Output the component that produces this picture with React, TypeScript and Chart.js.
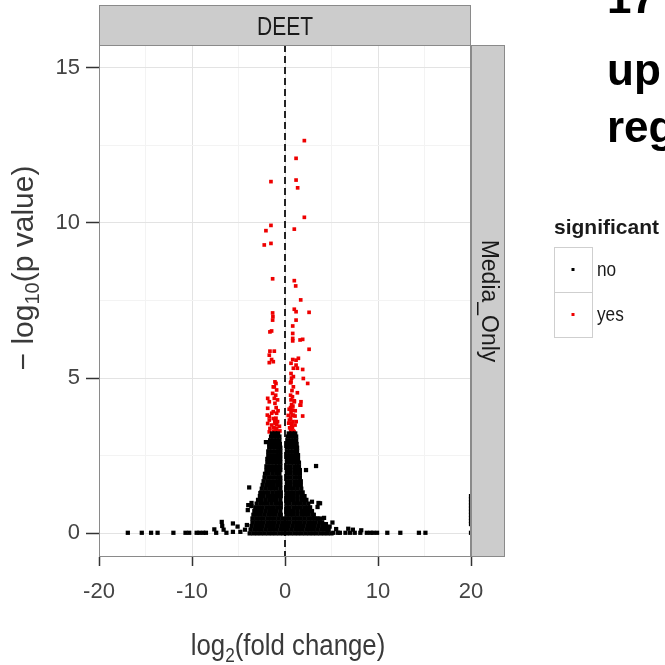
import { useEffect, useRef } from 'react';
import { Chart, registerables } from 'chart.js';

Chart.register(...registerables);

// Axis limits and tick positions
const xLimits = [-20, 20];
const yLimits = [-0.76, 15.73];
const xTicksMajor = [-20, -10, 0, 10, 20];
const xTicksMinor = [-15, -5, 5, 15];
const yTicksMajor = [0, 5, 10, 15];
const yTicksMinor = [2.5, 7.5, 12.5];
const referenceLineX = 0;

// Text
const facetColumn = 'DEET';
const facetRow = 'Media_Only';
const legendTitle = 'significant';
const legendLabels = ['no', 'yes'];
const headlineLines = ['17', 'up', 'reg'];

// Significant genes: [log2 fold change, -log10 p]
const sigGenes: [number, number][] = [
  [2.08, 12.65], [1.19, 12.08], [-1.51, 11.33], [1.19, 11.38], [1.36, 11.13], [2.08, 10.18],
  [-1.51, 9.92], [-2.05, 9.75], [1.0, 9.8], [-2.23, 9.29], [-1.51, 9.34],
  [-1.33, 8.2], [1.0, 8.14], [1.15, 7.97], [1.69, 7.52],
  [-1.33, 7.1], [-1.3, 6.98], [-1.33, 6.87], [1.0, 7.22], [1.19, 7.14], [2.59, 7.12], [1.19, 6.87], [0.83, 6.68],
  [-1.44, 6.52], [-1.62, 6.49], [0.83, 6.44], [0.83, 6.28], [1.62, 6.23], [1.9, 6.25], [0.83, 6.2], [2.59, 5.93],
  [-1.62, 5.87], [-1.15, 5.87], [-1.69, 5.74], [-1.44, 5.6], [-1.69, 5.5], [-1.26, 5.53],
  [0.83, 5.6], [1.19, 5.58], [1.44, 5.64], [0.65, 5.48], [1.19, 5.42], [0.9, 5.32], [1.33, 5.32], [1.9, 5.28],
  [0.65, 5.15], [0.9, 5.05], [1.97, 4.99], [2.44, 4.83], [0.65, 4.88], [0.9, 4.72],
  [1.33, 4.53], [1.0, 4.27], [1.69, 4.13], [1.72, 4.24], [1.9, 3.78], [0.83, 3.97], [1.08, 3.78],
  [0.7, 5.0], [0.6, 4.85], [0.75, 4.6], [0.6, 4.45], [0.8, 4.4], [0.65, 4.3], [0.7, 4.15], [0.6, 4.05],
  [0.85, 4.1], [0.65, 3.9], [0.75, 3.8], [0.6, 3.7], [0.85, 3.6], [0.7, 3.5], [0.5, 3.4], [0.8, 3.42],
  [0.65, 3.3], [0.9, 3.3], [1.0, 4.24], [1.62, 4.13], [0.72, 3.97], [0.9, 3.81], [0.47, 3.65], [0.72, 3.54],
  [1.08, 3.49], [0.61, 3.33], [0.97, 3.27], [0.4, 3.55], [0.35, 3.8], [0.45, 4.0], [1.2, 3.6], [1.1, 3.95],
  [-0.97, 4.83], [-1.15, 4.72], [-0.9, 4.62], [-1.33, 4.51], [-1.15, 4.35], [-1.86, 4.35], [-1.08, 4.19],
  [-1.86, 4.03], [-1.26, 3.92], [-0.9, 3.87], [-1.69, 3.76], [-0.97, 3.71], [-1.08, 4.88], [-1.26, 4.72],
  [-1.69, 4.24], [-1.9, 3.81], [-1.43, 3.87], [-1.69, 3.65], [-1.26, 3.7], [-1.86, 3.54], [-1.43, 3.49],
  [-1.62, 3.38], [-1.08, 3.54], [-0.9, 3.38], [-0.72, 3.27], [-1.69, 3.27],
  [-1.0, 4.45], [-0.8, 4.3], [-0.95, 4.05], [-0.75, 3.95], [-1.1, 3.6], [-0.8, 3.6], [-1.2, 3.4],
  [-0.9, 3.5], [-0.6, 3.45], [-1.05, 3.3], [-0.55, 3.3], [-1.25, 3.28],
];

// Dense centre of non-significant genes: one list of log2 fold changes per -log10 p level
const nsCoreLevels = [
  0, 0.12, 0.24, 0.36, 0.48, 0.6, 0.72, 0.84, 0.96, 1.08, 1.2, 1.32, 1.44, 1.56,
  1.68, 1.8, 1.92, 2.04, 2.16, 2.28, 2.4, 2.52, 2.64, 2.76, 2.88, 3.0, 3.12, 3.22,
];
const nsCoreRows: number[][] = [
  [-3.8, -3.4, -3.0, -2.6, -2.2, -1.8, -1.4, -1.0, -0.6, -0.2, 0.2, 0.6, 1.0, 1.4, 1.8, 2.2, 2.6, 3.0, 3.4, 3.8, 4.2, 4.6, 5.0],
  [-3.7, -3.3, -2.9, -2.5, -2.1, -1.7, -1.3, -0.9, -0.5, -0.1, 0.3, 0.7, 1.1, 1.5, 1.9, 2.3, 2.7, 3.1, 3.5, 3.9, 4.3, 4.7],
  [-3.6, -3.2, -2.8, -2.4, -2.0, -1.6, -1.2, -0.8, -0.4, 0, 0.4, 0.8, 1.2, 1.6, 2.0, 2.4, 2.8, 3.2, 3.6, 4.0, 4.4],
  [-3.5, -3.1, -2.7, -2.3, -1.9, -1.5, -1.1, -0.7, -0.3, 0.1, 0.5, 0.9, 1.3, 1.7, 2.1, 2.5, 2.9, 3.3, 3.7, 4.0],
  [-3.5, -3.1, -2.7, -2.3, -1.9, -1.5, -1.1, -0.7, -0.3, 0.1, 0.5, 0.9, 1.3, 1.7, 2.1, 2.5, 2.9, 3.3, 3.5],
  [-3.4, -3.0, -2.6, -2.2, -1.8, -1.4, -1.0, -0.6, -0.45, 0.15, 0.55, 0.95, 1.35, 1.75, 2.15, 2.55, 2.95, 3.1],
  [-3.3, -2.9, -2.5, -2.1, -1.7, -1.3, -0.9, -0.5, 0.15, 0.55, 0.95, 1.35, 1.75, 2.15, 2.55, 2.9],
  [-3.2, -2.8, -2.4, -2.0, -1.6, -1.2, -0.8, -0.45, 0.15, 0.5, 0.9, 1.3, 1.7, 2.1, 2.45, 2.7],
  [-3.05, -2.65, -2.25, -1.85, -1.45, -1.05, -0.7, -0.45, 0.15, 0.5, 0.9, 1.3, 1.7, 2.1, 2.5],
  [-2.9, -2.5, -2.1, -1.7, -1.3, -0.9, -0.5, 0.15, 0.55, 0.95, 1.35, 1.75, 2.1, 2.3],
  [-2.7, -2.3, -1.9, -1.5, -1.1, -0.75, -0.45, 0.15, 0.55, 0.95, 1.35, 1.75, 2.1],
  [-2.55, -2.15, -1.75, -1.35, -0.95, -0.6, -0.45, 0.15, 0.55, 0.95, 1.35, 1.7, 1.9],
  [-2.5, -2.1, -1.7, -1.3, -0.9, -0.5, 0.15, 0.55, 0.95, 1.35, 1.75],
  [-2.4, -2.0, -1.6, -1.2, -0.8, -0.5, 0.2, 0.6, 1.0, 1.4, 1.7],
  [-2.3, -1.9, -1.5, -1.1, -0.75, -0.5, 0.2, 0.6, 1.0, 1.4, 1.7],
  [-2.2, -1.8, -1.4, -1.0, -0.65, -0.5, 0.2, 0.6, 1.0, 1.35, 1.6],
  [-2.15, -1.75, -1.35, -0.95, -0.6, 0.2, 0.6, 1.0, 1.35, 1.6],
  [-2.0, -1.6, -1.2, -0.85, -0.5, 0.2, 0.6, 1.0, 1.35, 1.6],
  [-2.0, -1.6, -1.2, -0.85, -0.5, 0.2, 0.6, 1.0, 1.3, 1.5],
  [-1.9, -1.5, -1.1, -0.75, -0.5, 0.2, 0.6, 0.95, 1.3, 1.5],
  [-1.9, -1.5, -1.1, -0.75, -0.5, 0.2, 0.6, 0.95, 1.25, 1.4],
  [-1.8, -1.4, -1.0, -0.7, -0.5, 0.2, 0.55, 0.9, 1.2, 1.4],
  [-1.8, -1.4, -1.0, -0.7, -0.5, 0.2, 0.55, 0.9, 1.2, 1.3],
  [-1.7, -1.35, -1.0, -0.7, -0.5, 0.2, 0.55, 0.9, 1.2, 1.3],
  [-1.7, -1.35, -1.0, -0.7, -0.55, 0.2, 0.55, 0.9, 1.25],
  [-1.6, -1.25, -0.9, -0.6, 0.25, 0.6, 0.95, 1.2],
  [-1.5, -1.15, -0.85, -0.6, 0.3, 0.65, 0.95, 1.2],
  [-1.4, -1.05, -0.75, 0.4, 0.75, 1.1],
];

// Non-significant genes outside the dense centre: [log2 fold change, -log10 p]
const nsScatter: [number, number][] = [
  [-2.05, 2.94], [3.34, 2.17], [2.26, 2.04], [-3.85, 1.48], [-3.6, 0.98], [-3.62, 0.88], [3.6, 0.98],
  [3.5, 0.85], [2.9, 1.02], [-2.65, 1.3], [-2.6, 1.2],
  [-6.8, 0.37], [-6.75, 0.24], [-6.6, 0.12], [-5.6, 0.32], [-5.6, 0.05], [-5.1, 0.22], [-4.8, 0.05],
  [-4.3, 0.12], [-4.1, 0.27], [-4.0, 0.75], [-3.95, 0.91], [-7.6, 0.13], [-7.4, 0.02],
  [3.77, 0.97], [3.77, 0.48], [4.4, 0.3], [4.8, 0.22], [5.1, 0.35], [4.6, 0.12], [4.2, 0.5],
  [-16.9, 0.02], [-15.4, 0.02], [-14.4, 0.02], [-13.7, 0.02], [-12.0, 0.02], [-10.7, 0.02], [-10.3, 0.02],
  [-9.5, 0.02], [-9.2, 0.02], [-8.8, 0.02], [-8.5, 0.02], [-6.3, 0.02],
  [5.2, 0.02], [5.7, 0.02], [5.9, 0.02], [6.5, 0.02], [7.0, 0.02], [7.5, 0.02], [8.1, 0.02], [8.8, 0.02],
  [9.2, 0.02], [9.5, 0.02], [9.9, 0.02], [11.0, 0.02], [12.4, 0.02], [14.4, 0.02], [15.1, 0.02],
  [5.5, 0.14], [6.8, 0.15], [7.3, 0.12], [8.2, 0.1],
];

// Genes whose fold change sits at the axis limit
const nsAtLimit: [number, number][] = [
  [20, 0.02], [20, 0.3], [20, 0.4], [20, 0.5], [20, 0.6], [20, 0.7], [20, 0.8], [20, 0.9], [20, 1.0], [20, 1.1], [20, 1.2],
];

const SANS = '"Liberation Sans", Arial, sans-serif';
const GRID_MAJOR = '#e3e3e3';
const GRID_MINOR = '#f3f3f3';
const FRAME = '#8a8a8a';
const STRIP_FILL = '#cccccc';
const TEXT_DARK = '#3a3a3a';
const NO_COLOR = '#000000';
const YES_COLOR = '#ee0000';

type Run = { text: string; size: number; dy: number };

// Draws a run of text pieces centred on the origin, squeezed horizontally by `squeeze`
function drawRuns(ctx: CanvasRenderingContext2D, runs: Run[], squeeze: number, weight = '') {
  const widths = runs.map((r) => {
    ctx.font = `${weight} ${r.size}px ${SANS}`;
    return ctx.measureText(r.text).width;
  });
  const total = widths.reduce((a, b) => a + b, 0);
  ctx.save();
  ctx.scale(squeeze, 1);
  ctx.textAlign = 'left';
  let x = -total / 2;
  runs.forEach((r, i) => {
    ctx.font = `${weight} ${r.size}px ${SANS}`;
    ctx.fillText(r.text, x, r.dy);
    x += widths[i];
  });
  ctx.restore();
}

function drawLeftText(ctx: CanvasRenderingContext2D, text: string, x: number, y: number, font: string, squeeze: number) {
  ctx.save();
  ctx.translate(x, y);
  ctx.scale(squeeze, 1);
  ctx.font = font;
  ctx.textAlign = 'left';
  ctx.fillText(text, 0, 0);
  ctx.restore();
}

const decor = {
  id: 'decor',
  afterDatasetsDraw(chart: any) {
    const { ctx, chartArea: a, scales } = chart;
    const x0 = scales.x.getPixelForValue(referenceLineX);
    ctx.save();
    ctx.beginPath();
    ctx.rect(a.left, a.top, a.right - a.left, a.bottom - a.top);
    ctx.clip();
    ctx.strokeStyle = '#000';
    ctx.lineWidth = 1.7;
    ctx.setLineDash([7, 4]);
    ctx.beginPath();
    ctx.moveTo(x0, a.top);
    ctx.lineTo(x0, a.bottom);
    ctx.stroke();
    ctx.restore();
  },
  afterDraw(chart: any) {
    const { ctx, chartArea: a } = chart;
    const w = a.right - a.left;
    const h = a.bottom - a.top;
    ctx.save();

    // facet strips
    ctx.fillStyle = STRIP_FILL;
    ctx.strokeStyle = FRAME;
    ctx.lineWidth = 1;
    ctx.fillRect(a.left, a.top - 40, w, 40);
    ctx.strokeRect(a.left + 0.5, a.top - 39.5, w - 1, 40);
    ctx.fillRect(a.right, a.top, 33, h);
    ctx.strokeRect(a.right + 0.5, a.top + 0.5, 33, h - 1);

    // panel frame
    ctx.strokeRect(a.left + 0.5, a.top + 0.5, w - 1, h - 1);

    // strip labels
    ctx.fillStyle = '#1a1a1a';
    ctx.textBaseline = 'middle';
    ctx.save();
    ctx.translate((a.left + a.right) / 2, a.top - 17);
    drawRuns(ctx, [{ text: facetColumn, size: 25, dy: 0 }], 0.84);
    ctx.restore();
    ctx.save();
    ctx.translate(a.right + 17, (a.top + a.bottom) / 2);
    ctx.rotate(Math.PI / 2);
    drawRuns(ctx, [{ text: facetRow, size: 23, dy: 0 }], 1);
    ctx.restore();

    // axis titles
    ctx.fillStyle = TEXT_DARK;
    ctx.textBaseline = 'alphabetic';
    ctx.save();
    ctx.translate((a.left + a.right) / 2 + 3, 655);
    drawRuns(ctx, [
      { text: 'log', size: 30, dy: 0 },
      { text: '2', size: 20, dy: 7 },
      { text: '(fold change)', size: 30, dy: 0 },
    ], 0.86);
    ctx.restore();
    ctx.save();
    ctx.translate(33, 268);
    ctx.rotate(-Math.PI / 2);
    drawRuns(ctx, [
      { text: '\u2212 log', size: 30, dy: 0 },
      { text: '10', size: 20, dy: 6 },
      { text: '(p value)', size: 30, dy: 0 },
    ], 1);
    ctx.restore();

    // legend
    const lx = 554;
    ctx.fillStyle = '#1a1a1a';
    ctx.textBaseline = 'middle';
    drawLeftText(ctx, legendTitle, lx, 228, `bold 21px ${SANS}`, 1);
    const keyTop = 247;
    const keyW = 38;
    const keyH = 45;
    legendLabels.forEach((label, i) => {
      const ky = keyTop + i * keyH;
      ctx.fillStyle = '#fff';
      ctx.fillRect(lx, ky, keyW, keyH);
      ctx.strokeStyle = '#cfcfcf';
      ctx.strokeRect(lx + 0.5, ky + 0.5, keyW, keyH);
      ctx.fillStyle = chart.data.datasets[i].backgroundColor;
      ctx.fillRect(lx + keyW / 2 - 1.5, ky + keyH / 2 - 1.5, 3, 3);
      ctx.fillStyle = '#1a1a1a';
      drawLeftText(ctx, label, lx + keyW + 5, ky + keyH / 2 + 1, `21px ${SANS}`, 0.82);
    });

    // headline
    ctx.fillStyle = '#000';
    ctx.textBaseline = 'alphabetic';
    const baselines = [13, 85, 142];
    headlineLines.forEach((t, i) => drawLeftText(ctx, t, 607, baselines[i], `bold 44px ${SANS}`, 1));

    ctx.restore();
  },
};

function buildChart(canvas: HTMLCanvasElement) {
  const noData = [
    ...nsCoreRows.flatMap((row, i) => row.map((x) => ({ x, y: nsCoreLevels[i] }))),
    ...nsScatter.map(([x, y]) => ({ x, y })),
    ...nsAtLimit.map(([x, y]) => ({ x, y })),
  ];
  const yesData = sigGenes.map(([x, y]) => ({ x, y }));
  const tickFont = { family: SANS, size: 22 };
  const gridColor = (major: number[]) => (c: any) =>
    c.tick && major.includes(c.tick.value) ? GRID_MAJOR : GRID_MINOR;
  const tickColor = (major: number[]) => (c: any) =>
    c.tick && major.includes(c.tick.value) ? '#333' : 'rgba(0,0,0,0)';

  return new Chart(canvas, {
    type: 'scatter',
    data: {
      datasets: [
        { label: legendLabels[0], data: noData, backgroundColor: NO_COLOR, borderWidth: 0, pointStyle: 'rect', pointRadius: 3.0 },
        { label: legendLabels[1], data: yesData, backgroundColor: YES_COLOR, borderWidth: 0, pointStyle: 'rect', pointRadius: 2.6 },
      ],
    },
    options: {
      responsive: false,
      animation: false,
      events: [],
      layout: { padding: { left: 0, top: 45, right: 194, bottom: 0 } },
      plugins: { legend: { display: false }, tooltip: { enabled: false } },
      scales: {
        x: {
          type: 'linear',
          min: xLimits[0],
          max: xLimits[1],
          afterFit: (s: any) => { s.height = 108; },
          afterBuildTicks: (s: any) => {
            s.ticks = [...xTicksMajor, ...xTicksMinor].sort((p, q) => p - q).map((value) => ({ value }));
          },
          grid: { color: gridColor(xTicksMajor), tickColor: tickColor(xTicksMajor), tickLength: 9, lineWidth: 1, tickWidth: 1.5 },
          border: { display: false },
          ticks: {
            font: tickFont,
            color: '#444',
            padding: 13,
            autoSkip: false,
            maxRotation: 0,
            minRotation: 0,
            callback: (v: any) => (xTicksMajor.includes(Number(v)) ? String(v) : ''),
          },
        },
        y: {
          type: 'linear',
          min: yLimits[0],
          max: yLimits[1],
          afterFit: (s: any) => { s.width = 99; },
          afterBuildTicks: (s: any) => {
            s.ticks = [...yTicksMajor, ...yTicksMinor].sort((p, q) => p - q).map((value) => ({ value }));
          },
          grid: { color: gridColor(yTicksMajor), tickColor: tickColor(yTicksMajor), tickLength: 13, lineWidth: 1, tickWidth: 1.5 },
          border: { display: false },
          ticks: {
            font: tickFont,
            color: '#444',
            padding: 6,
            autoSkip: false,
            callback: (v: any) => (yTicksMajor.includes(Number(v)) ? String(v) : ''),
          },
        },
      },
    },
    plugins: [decor],
  } as any);
}

export default function App() {
  const ref = useRef<HTMLCanvasElement>(null);
  useEffect(() => {
    const canvas = ref.current;
    if (!canvas) return;
    const chart = buildChart(canvas);
    return () => chart.destroy();
  }, []);
  return (
    <div style={{ position: 'fixed', left: 0, top: 0, width: 665, height: 665, background: '#fff' }}>
      <canvas ref={ref} width={665} height={665} style={{ display: 'block', width: 665, height: 665 }} />
    </div>
  );
}
